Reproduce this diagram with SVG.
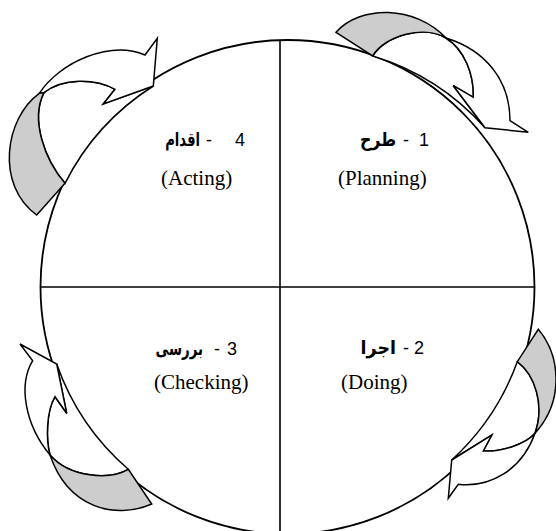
<svg xmlns="http://www.w3.org/2000/svg" width="556" height="531" viewBox="0 0 556 531">
<style>
.ln{fill:none;stroke:#000;stroke-width:1.6}
.wh{fill:#fff;stroke:#000;stroke-width:1.5;stroke-linejoin:miter}
.gr{fill:#cdcdcd;stroke:#000;stroke-width:1.5;stroke-linejoin:miter}
.fa{font-family:"DejaVu Sans",sans-serif;font-weight:bold;font-size:19px;text-anchor:end}
.nm{font-family:"Liberation Sans",Arial,sans-serif;font-size:18px}
.en{font-family:"Liberation Serif","Times New Roman",serif;font-size:21px}
</style>
<rect width="556" height="531" fill="#fff"/>
<g id="cycle">
<circle cx="287.5" cy="287" r="247" fill="#fff" stroke="#000" stroke-width="1.8"/>
<line class="ln" x1="280" y1="40" x2="280" y2="535"/>
<line class="ln" x1="40.5" y1="287" x2="534.5" y2="287"/>
</g>
<g id="connectors">
<g id="arrow-plan-do">
<path class="wh" d="M372.7,56 C385,35 425,25 446,38 C465,50 474,75 473.3,97.3 L453.3,85.7 L485,127.7 A247,247 0 0 0 372.7,56 Z"/>
<path class="wh" d="M446,38 C485,50 510,80 510,120.7 L528.3,132.3 L485,127.7 L453.3,85.7 L473.3,97.3 C474,75 465,50 446,38 Z"/>
<path class="gr" d="M336,32.3 C360,5 415,5 446,38 C425,25 385,35 372.7,56 Z"/>
</g>
<g id="arrow-do-check">
<path class="wh" d="M517.3,361.7 C535,375 545,405 535,433.3 C525,445 500,452 483.3,451 L491.7,435 L451.7,460 A247,247 0 0 0 517.3,361.7 Z"/>
<path class="wh" d="M535,433.3 C522,470 490,488 458.3,484.3 L448.3,498.3 L451.7,460 L491.7,435 L483.3,451 C500,452 525,445 535,433.3 Z"/>
<path class="gr" d="M538.3,329.3 C560,355 565,400 535,433.3 C545,405 535,375 517.3,361.7 Z"/>
</g>
<g id="arrow-check-act">
<path class="wh" d="M128.3,469.3 C110,480 70,478 50,455 C46,440 46,412 55,396.7 L66.7,413.3 L56.7,364 A247,247 0 0 0 128.3,469.3 Z"/>
<path class="wh" d="M50,455 C25,425 18,385 32.7,360.7 L20,344 L56.7,364 L66.7,413.3 L55,396.7 C46,412 46,440 50,455 Z"/>
<path class="gr" d="M151.7,504 C115,520 68,508 50,455 C70,478 110,480 128.3,469.3 Z"/>
</g>
<g id="arrow-act-plan">
<path class="wh" d="M65,183.3 C45,160 30,120 44,92.7 C62,78 95,78 115,89.3 L103.3,104 L153.3,86 A247,247 0 0 0 65,183.3 Z"/>
<path class="wh" d="M39.3,93.3 C60,62 110,40 145,55 L157.3,38.3 L153.3,86 L103.3,104 L115,89.3 C95,78 62,78 44,92.7 Z"/>
<path class="gr" d="M39.3,93.3 C5,118 -5,185 36.7,215 L65,183.3 C45,160 30,120 44,92.7 Z"/>
</g>
</g>
<g id="planning">
<text class="fa" transform="translate(396,146) scale(0.83,1)">طرح</text>
<text class="nm" x="406" y="146" text-anchor="middle">-</text>
<text class="nm" x="419" y="146">1</text>
<text class="en" x="338" y="185">(Planning)</text>
</g>
<g id="doing">
<text class="fa" transform="translate(396,354) scale(0.92,1)">اجرا</text>
<text class="nm" x="406" y="354" text-anchor="middle">-</text>
<text class="nm" x="414" y="354">2</text>
<text class="en" x="341" y="389">(Doing)</text>
</g>
<g id="checking">
<text class="fa" transform="translate(203,355) scale(0.7,1)">بررسی</text>
<text class="nm" x="217" y="355" text-anchor="middle">-</text>
<text class="nm" x="227" y="355">3</text>
<text class="en" x="154" y="389">(Checking)</text>
</g>
<g id="acting">
<text class="fa" transform="translate(200,146) scale(0.69,1)">اقدام</text>
<text class="nm" x="209" y="146" text-anchor="middle">-</text>
<text class="nm" x="235" y="146">4</text>
<text class="en" x="161" y="185">(Acting)</text>
</g>
</svg>
